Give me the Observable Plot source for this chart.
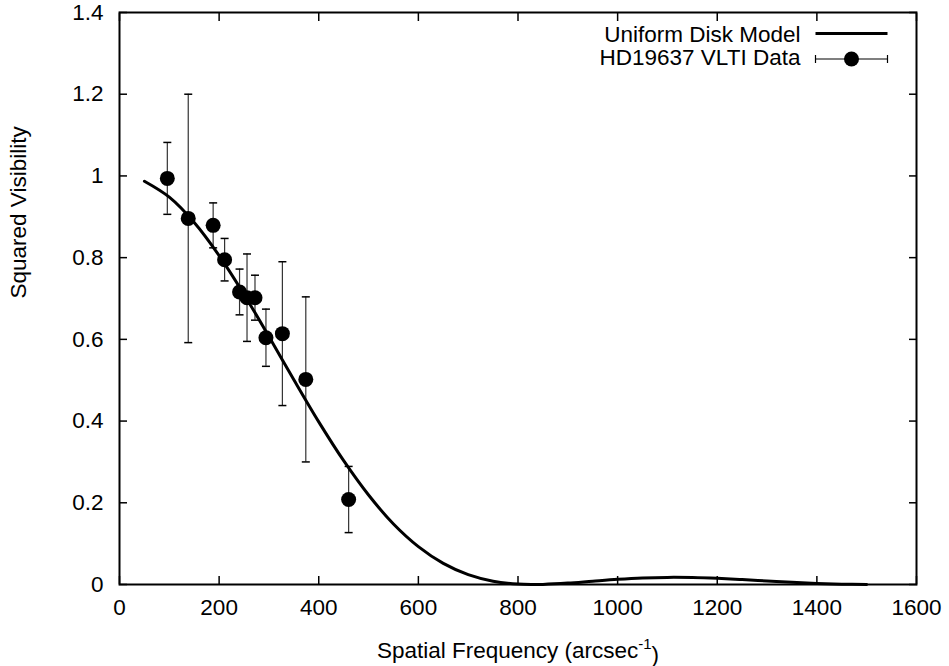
<!DOCTYPE html>
<html><head><meta charset="utf-8">
<script src="https://cdn.jsdelivr.net/npm/d3@7"></script>
<script src="https://cdn.jsdelivr.net/npm/@observablehq/plot@0.6"></script>
<style>body{margin:0;background:#fff;} svg{display:block;}</style>
</head><body><div id="chart"></div>
<script>
// Measured data points (spatial frequency, squared visibility, error)
const freq = [96, 138, 188, 211, 241, 256, 272, 294, 327, 374, 460];
const v2   = [0.994, 0.896, 0.879, 0.795, 0.716, 0.702, 0.702, 0.604, 0.614, 0.502, 0.208];
const err  = [0.088, 0.304, 0.055, 0.052, 0.056, 0.107, 0.055, 0.070, 0.176, 0.202, 0.081];

// Uniform disk model curve
const modelFreq = [50,100,150,200,250,300,350,400,450,500,550,600,650,700,750,800,830,850,900,950,1000,1050,1100,1150,1200,1250,1300,1350,1400,1450,1500];
const modelV2   = [0.987,0.948,0.886,0.805,0.710,0.607,0.501,0.398,0.303,0.219,0.148,0.0926,0.0516,0.0241,0.0081,0.0010,0.0000,0.0003,0.0034,0.0081,0.0126,0.0159,0.0174,0.0170,0.0151,0.0121,0.0086,0.0053,0.0027,0.0009,0.0001];

// Tick labels
const xTicks = [0,200,400,600,800,1000,1200,1400,1600];
const yTicks = [0,0.2,0.4,0.6,0.8,1.0,1.2,1.4];

// Legend labels
const legendLabels = ["Uniform Disk Model", "HD19637 VLTI Data"];

const data = freq.map((f,i)=>({f, v: v2[i], lo: v2[i]-err[i], hi: v2[i]+err[i]}));
const model = modelFreq.map((f,i)=>({f, v: modelV2[i]}));

const hline = {draw(ctx,size){const r=Math.sqrt(size/Math.PI); ctx.moveTo(-r,0); ctx.lineTo(r,0);}};
const vline = {draw(ctx,size){const r=Math.sqrt(size/Math.PI); ctx.moveTo(0,-r); ctx.lineTo(0,r);}};

const fmtY = d => String(+d.toFixed(1));
const fmtX = d => String(d);
const FS = 22.5;

const plot = Plot.plot({
  width: 949, height: 666,
  marginLeft: 119, marginRight: 33, marginTop: 12, marginBottom: 82,
  style: {fontFamily: "'Liberation Sans', Arial, Helvetica, sans-serif", fontSize: FS + "px", color: "#000", background: "#fff", overflow: "visible"},
  x: {domain: [0, 1600]},
  y: {domain: [0, 1.4]},
  marks: [
    Plot.axisX(xTicks, {anchor: "bottom", tickSize: -8, tickPadding: 23, tickFormat: fmtX, label: null, strokeWidth: 1.5, fontSize: FS}),
    Plot.axisX(xTicks, {anchor: "top", tickSize: -8, tickFormat: () => "", label: null, strokeWidth: 1.5}),
    Plot.axisY(yTicks, {anchor: "left", tickSize: -8, tickPadding: 24, tickFormat: fmtY, label: null, strokeWidth: 1.5, fontSize: FS}),
    Plot.axisY(yTicks, {anchor: "right", tickSize: -8, tickFormat: () => "", label: null, strokeWidth: 1.5}),
    // error bars
    Plot.ruleX(data, {x: "f", y1: "lo", y2: "hi", stroke: "#333", strokeWidth: 1.2}),
    Plot.dot(data, {x: "f", y: "hi", symbol: hline, r: 4, stroke: "#000", strokeWidth: 1.5}),
    Plot.dot(data, {x: "f", y: "lo", symbol: hline, r: 4, stroke: "#000", strokeWidth: 1.5}),
    // model curve
    Plot.line(model, {x: "f", y: "v", stroke: "#000", strokeWidth: 3, curve: "catmull-rom"}),
    // data points
    Plot.dot(data, {x: "f", y: "v", r: 7.5, fill: "#000", stroke: "none"}),
    Plot.frame({stroke: "#000", strokeWidth: 2}),
    // axis titles
    Plot.text(["Spatial Frequency (arcsec"], {frameAnchor: "bottom", dy: 73, text: d => d, className: "xtitle", fill: "#000", fontSize: FS}),
    Plot.text(["Squared Visibility"], {frameAnchor: "left", dx: -101, rotate: -90, text: d => d, fill: "#000", fontSize: FS}),
    // legend
    Plot.text([legendLabels[0]], {frameAnchor: "top-right", lineAnchor: "middle", dx: -116, dy: 22, textAnchor: "end", text: d => d, fill: "#000", fontSize: FS}),
    Plot.dot([0], {frameAnchor: "top-right", dx: -65, dy: 21, symbol: hline, r: 36, stroke: "#000", strokeWidth: 3}),
    Plot.text([legendLabels[1]], {frameAnchor: "top-right", lineAnchor: "middle", dx: -116, dy: 45.5, textAnchor: "end", text: d => d, fill: "#000", fontSize: FS}),
    Plot.dot([0], {frameAnchor: "top-right", dx: -65, dy: 46.5, symbol: hline, r: 36, stroke: "#000", strokeWidth: 1.2}),
    Plot.dot([0], {frameAnchor: "top-right", dx: -101, dy: 46.5, symbol: vline, r: 4, stroke: "#000", strokeWidth: 1.2}),
    Plot.dot([0], {frameAnchor: "top-right", dx: -29, dy: 46.5, symbol: vline, r: 4, stroke: "#000", strokeWidth: 1.2}),
    Plot.dot([0], {frameAnchor: "top-right", dx: -65, dy: 46.5, r: 7.5, fill: "#000"})
  ]
});
document.getElementById("chart").appendChild(plot);

// make sure every text uses the same size
d3.select(plot).selectAll("text").style("font-size", FS + "px");

// superscript on the x title
const t = d3.select(plot).select(".xtitle text");
if (!t.empty()) {
  t.text("Spatial Frequency (arcsec");
  t.append("tspan").attr("dy", "-0.55em").style("font-size", "15px").text("-1");
  t.append("tspan").attr("dy", "0.55em").text(")");
}
</script>
</body></html>
